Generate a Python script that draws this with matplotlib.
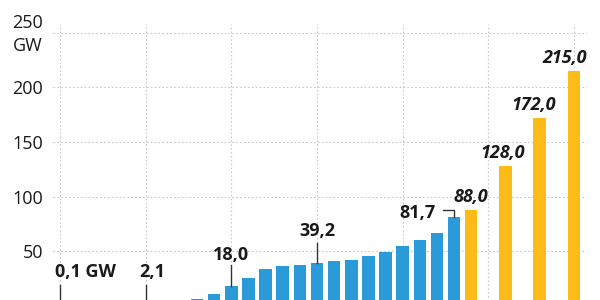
import matplotlib.pyplot as plt

plt.rcParams['font.family'] = ['Open Sans', 'DejaVu Sans']

# installed PV capacity (GW), actual values
years = list(range(2000, 2024))
capacity = [0.1, 0.2, 0.3, 0.4, 1.1, 2.1, 2.9, 4.2, 6.1, 10.6,
             18.0, 25.9, 34.1, 36.7, 37.9, 39.2, 40.8, 42.4, 45.4, 49.3,
             54.5, 60.0, 67.0, 81.7]
# targets (GW)
target_years = [2024, 2026, 2028, 2030]
target_values = [88.0, 128.0, 172.0, 215.0]
target_labels = ["88,0", "128,0", "172,0", "215,0"]
y_ticks = [0, 50, 100, 150, 200, 250]

blue = "#2A9AD8"
orange = "#FDBB17"
dark = "#1a1a1a"

fig = plt.figure(figsize=(6, 3), dpi=100)
ax = fig.add_axes([53 / 600, -0.02, 534 / 600, 0.94])

ax.bar(years, capacity, width=0.73, color=blue, zorder=2)
ax.bar(target_years, target_values, width=0.73, color=orange, zorder=2)

ax.set_xlim(1999.59, 2030.76)
ax.set_ylim(0, 258)
ax.set_yticks(y_ticks)
# top label is drawn by hand, lifted up to make room for the unit
ax.set_yticklabels([str(t) for t in y_ticks[:-1]] + [""])
ax.set_xticks(range(2000, 2031, 5))
ax.tick_params(axis='x', length=0, labelbottom=False)
ax.tick_params(axis='y', length=0, pad=7, labelsize=13, labelcolor=dark)
ax.grid(True, color="#c8c8c8", linestyle=(0, (1.5, 2)), linewidth=0.8, zorder=0)
for s in ax.spines.values():
    s.set_visible(False)

yt = ax.get_yaxis_transform()
ax.text(-10 / 534, 258.5, str(y_ticks[-1]), transform=yt, ha='right', va='center',
        fontsize=13, color=dark, clip_on=False)
ax.text(-10 / 534, 237.5, "GW", transform=yt, ha='right', va='center',
        fontsize=13, color=dark, clip_on=False)

# callouts on actual values
lbl = dict(fontsize=13, fontweight='bold', color=dark, va='baseline')
line = dict(color="#333333", linewidth=1, zorder=3)

ax.text(2001.5, 26.6, "0,1 GW", ha='center', **lbl)
ax.plot([2000, 2000], [0, 19.3], **line)
ax.text(2005.4, 26.6, "2,1", ha='center', **lbl)
ax.plot([2005, 2005], [0, 19.3], **line)
ax.text(2010, 42.2, "18,0", ha='center', **lbl)
ax.plot([2010, 2010], [18.0, 37.6], **line)
ax.text(2015, 64.2, "39,2", ha='center', **lbl)
ax.plot([2015, 2015], [39.2, 57.8], **line)
ax.text(2021.9, 80.7, "81,7", ha='right', **lbl)
ax.plot([2022.36, 2023, 2023], [87.4, 87.4, 81.7], **line)

# target labels (nudged left so the last one stays inside)
nudge = [-0.03, -0.16, -0.35, -0.53]
for yr, v, t, dx in zip(target_years, target_values, target_labels, nudge):
    ax.text(yr + dx, v + 7, t, ha='center', va='baseline', fontsize=13,
            fontweight='bold', fontstyle='italic', color=dark)

fig.savefig("out.png", dpi=100)
